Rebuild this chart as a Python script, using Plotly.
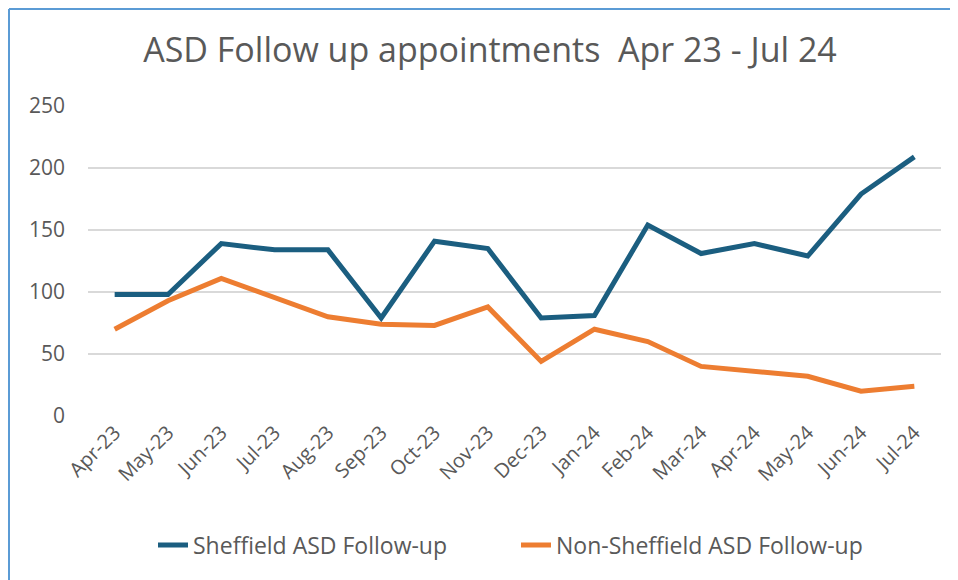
import plotly.graph_objects as go

months = ["Apr-23", "May-23", "Jun-23", "Jul-23", "Aug-23", "Sep-23", "Oct-23", "Nov-23",
          "Dec-23", "Jan-24", "Feb-24", "Mar-24", "Apr-24", "May-24", "Jun-24", "Jul-24"]
sheffield = [98, 98, 139, 134, 134, 79, 141, 135, 79, 81, 154, 131, 139, 129, 179, 209]
non_sheffield = [70, 93, 111, 95, 80, 74, 73, 88, 44, 70, 60, 40, 36, 32, 20, 24]

fig = go.Figure()
fig.add_trace(go.Scatter(x=months, y=sheffield, mode="lines", name="Sheffield ASD Follow-up",
                         line=dict(color="#1B5E80", width=5)))
fig.add_trace(go.Scatter(x=months, y=non_sheffield, mode="lines", name="Non-Sheffield ASD Follow-up",
                         line=dict(color="#ED7D31", width=5)))

# plot area in figure px: x 80..933, y 98..408 (page adds 8px body margin)
border = dict(color="#5B9BD5", width=2)
fig.update_layout(
    width=958, height=580,
    font=dict(family="Open Sans, Lato, sans-serif", color="#595959", size=21),
    title=dict(text="ASD Follow up appointments  Apr 23 - Jul 24", x=482 / 958, xanchor="center",
               y=1 - 42 / 580, yanchor="middle", font=dict(size=34, color="#595959")),
    plot_bgcolor="white", paper_bgcolor="white",
    margin=dict(l=80, r=25, t=98, b=172),
    xaxis=dict(range=[-0.5, 15.5], tickangle=-45, showgrid=False, showline=False,
               ticks="", tickfont=dict(size=20)),
    yaxis=dict(range=[0, 250], dtick=50, showgrid=True, gridcolor="#D9D9D9", gridwidth=1.5,
               zeroline=False, showline=False, ticks="", ticklabelstandoff=22,
               tickfont=dict(size=21)),
    legend=dict(orientation="h", x=(127 - 80 + 18) / 853, xanchor="left", y=-0.416, yanchor="middle",
                font=dict(size=23), itemwidth=30, entrywidth=318, traceorder="normal"),
    shapes=[
        dict(type="line", xref="paper", yref="paper", x0=-79 / 853, x1=1.2,
             y0=407 / 310, y1=407 / 310, line=border),
        dict(type="line", xref="paper", yref="paper", x0=-79 / 853, x1=-79 / 853,
             y0=-0.8, y1=407 / 310, line=border),
    ],
)

fig.write_html("out.html")
